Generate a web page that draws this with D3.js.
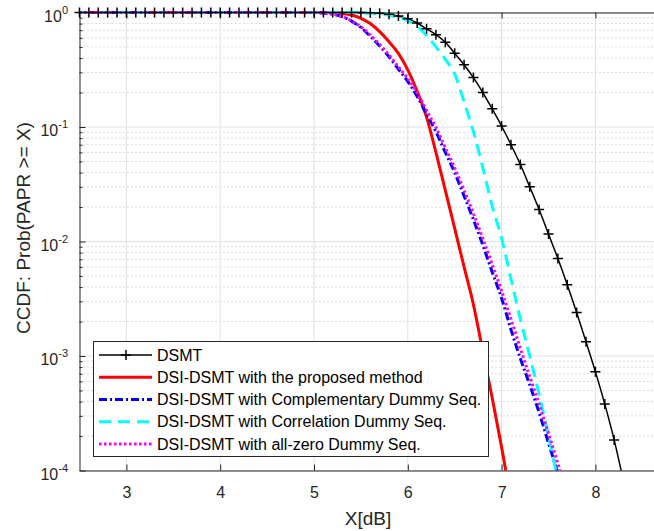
<!DOCTYPE html>
<html>
<head>
<meta charset="utf-8">
<script src="https://cdn.jsdelivr.net/npm/d3@7"></script>
<style>
  body { margin: 0; background: #ffffff; }
  text { font-family: "Liberation Sans", Arial, Helvetica, sans-serif; }
</style>
</head>
<body>
<svg id="svg" width="654" height="531"></svg>
<script>
// PAPR threshold X [dB], one sample every 0.1 dB
const papr = [
  2.5, 2.6, 2.7, 2.8, 2.9, 3.0, 3.1, 3.2, 3.3, 3.4,
  3.5, 3.6, 3.7, 3.8, 3.9, 4.0, 4.1, 4.2, 4.3, 4.4,
  4.5, 4.6, 4.7, 4.8, 4.9, 5.0, 5.1, 5.2, 5.3, 5.4,
  5.5, 5.6, 5.7, 5.8, 5.9, 6.0, 6.1, 6.2, 6.3, 6.4,
  6.5, 6.6, 6.7, 6.8, 6.9, 7.0, 7.1, 7.2, 7.3, 7.4,
  7.5, 7.6, 7.7, 7.8, 7.9, 8.0, 8.1, 8.2, 8.3
]

// CCDF values (null = curve already below 1e-4)
const dsmt = [
  1, 1, 1, 1, 1, 1, 1, 1, 1, 1,
  1, 1, 1, 1, 1, 1, 1, 1, 1, 1,
  1, 1, 1, 1, 1, 1, 1, 1, 1, 1,
  1, 0.995, 0.985, 0.965, 0.93, 0.88, 0.81, 0.72, 0.64, 0.55,
  0.44, 0.35, 0.27, 0.20, 0.144, 0.102, 0.070, 0.047, 0.030, 0.019,
  0.0116, 0.0071, 0.0042, 0.0024, 0.00133, 0.00073, 0.00038, 0.000185, 0.00008
]
const proposed = [
  1, 1, 1, 1, 1, 1, 1, 1, 1, 1,
  1, 1, 1, 1, 1, 1, 1, 1, 1, 1,
  1, 1, 1, 1, 1, 1, 1, 0.995, 0.98, 0.95,
  0.89, 0.80, 0.68, 0.555, 0.44, 0.315, 0.205, 0.122, 0.060, 0.028,
  0.013, 0.006, 0.0028, 0.0011, 0.00043, 0.00016, 0.000055, null, null, null,
  null, null, null, null, null, null, null, null, null
]
const complementary = [
  1, 1, 1, 1, 1, 1, 1, 1, 1, 1,
  1, 1, 1, 1, 1, 1, 1, 1, 1, 1,
  1, 1, 1, 1, 1, 1, 0.99, 0.965, 0.92, 0.84,
  0.74, 0.62, 0.51, 0.41, 0.32, 0.25, 0.185, 0.13, 0.091, 0.060,
  0.040, 0.025, 0.0155, 0.0093, 0.0054, 0.0032, 0.0017, 0.00095, 0.00056, 0.00032,
  0.000174, 0.000095, null, null, null, null, null, null, null
]
const correlation = [
  1, 1, 1, 1, 1, 1, 1, 1, 1, 1,
  1, 1, 1, 1, 1, 1, 1, 1, 1, 1,
  1, 1, 1, 1, 1, 1, 1, 1, 1, 1,
  0.995, 0.985, 0.975, 0.95, 0.91, 0.85, 0.76, 0.63, 0.50, 0.39,
  0.29, 0.166, 0.091, 0.044, 0.0204, 0.0107, 0.0047, 0.0021, 0.0010, 0.00046,
  0.00020, 0.000083, null, null, null, null, null, null, null
]
const allZero = [
  1, 1, 1, 1, 1, 1, 1, 1, 1, 1,
  1, 1, 1, 1, 1, 1, 1, 1, 1, 1,
  1, 1, 1, 1, 1, 1, 0.99, 0.97, 0.925, 0.845,
  0.75, 0.635, 0.525, 0.425, 0.335, 0.265, 0.198, 0.14, 0.099, 0.066,
  0.044, 0.028, 0.0175, 0.0106, 0.0063, 0.0037, 0.0021, 0.00117, 0.00066, 0.00038,
  0.00021, 0.000115, 0.000062, null, null, null, null, null, null
]

const legendLabels = [
  'DSMT',
  'DSI-DSMT with the proposed method',
  'DSI-DSMT with Complementary Dummy Seq.',
  'DSI-DSMT with Correlation Dummy Seq.',
  'DSI-DSMT with all-zero Dummy Seq.'
]
const xTicks = [3, 4, 5, 6, 7, 8]
const yTicks = [1e-4, 1e-3, 1e-2, 1e-1, 1]
const yTickExp = ['-4', '-3', '-2', '-1', '0']

const series = [
  { name: legendLabels[0], values: dsmt, color: '#000000', width: 1.5, dash: null, marker: true },
  { name: legendLabels[1], values: proposed, color: '#ff0000', width: 3, dash: null },
  { name: legendLabels[2], values: complementary, color: '#0000ff', width: 3, dash: '8,3,2,3' },
  { name: legendLabels[3], values: correlation, color: '#00ffff', width: 3, dash: '12,7' },
  { name: legendLabels[4], values: allZero, color: '#ff00ff', width: 3, dash: '2.5,2.5' }
]

const svg = d3.select('#svg')

const plot = { left: 79.5, top: 12.5, bottom: 470.5, right: 654 }
const axisColor = '#262626'

const xScale = d3.scaleLinear()
  .domain([2.5, 9])
  .range([plot.left, plot.left + 6.5 * 93.8])

const yScale = d3.scaleLog()
  .domain([1e-4, 1])
  .range([plot.bottom, plot.top])

// minor decade positions 2..9 x 10^k
const yMinor = []
for (let k = -4; k < 0; k++) {
  for (let m = 2; m <= 9; m++) yMinor.push(m * Math.pow(10, k))
}

// grid
const grid = svg.append('g')
grid.selectAll('.minor')
  .data(yMinor)
  .enter()
  .append('line')
  .attr('x1', plot.left).attr('x2', plot.right)
  .attr('y1', d => yScale(d)).attr('y2', d => yScale(d))
  .attr('stroke', '#b8b8b8')
  .attr('stroke-width', 1)
  .attr('stroke-dasharray', '1,3')
grid.selectAll('.hmajor')
  .data(yTicks)
  .enter()
  .append('line')
  .attr('x1', plot.left).attr('x2', plot.right)
  .attr('y1', d => yScale(d)).attr('y2', d => yScale(d))
  .attr('stroke', '#e1e1e1')
grid.selectAll('.vmajor')
  .data(xTicks)
  .enter()
  .append('line')
  .attr('x1', d => xScale(d)).attr('x2', d => xScale(d))
  .attr('y1', plot.top).attr('y2', plot.bottom)
  .attr('stroke', '#e1e1e1')

// axes
const xAxis = svg.append('g')
  .attr('transform', 'translate(0,' + plot.bottom + ')')
  .call(d3.axisBottom(xScale).tickValues(xTicks).tickFormat(d3.format('d'))
    .tickSizeInner(-6).tickSizeOuter(0).tickPadding(16))
const topAxis = svg.append('g')
  .attr('transform', 'translate(0,' + plot.top + ')')
  .call(d3.axisTop(xScale).tickValues(xTicks).tickSizeInner(-6).tickSizeOuter(0).tickFormat(''))
const yAxis = svg.append('g')
  .attr('transform', 'translate(' + plot.left + ',0)')
  .call(d3.axisLeft(yScale).tickValues(yTicks).tickSizeInner(-6).tickSizeOuter(0).tickFormat(''))
const yMinorAxis = svg.append('g')
  .attr('transform', 'translate(' + plot.left + ',0)')
  .call(d3.axisLeft(yScale).tickValues(yMinor).tickSizeInner(-3).tickSizeOuter(0).tickFormat(''))
yMinorAxis.select('.domain').remove()

svg.selectAll('.domain, .tick line').attr('stroke', axisColor)
xAxis.selectAll('text')
  .attr('fill', axisColor)
  .style('font-size', '16px')
  .style('font-family', '"Liberation Sans", Arial, sans-serif')

// y tick labels 10^k
const yLab = svg.append('g')
  .selectAll('text')
  .data(yTicks)
  .enter()
  .append('text')
  .attr('x', 68)
  .attr('y', d => yScale(d) + 9)
  .attr('text-anchor', 'end')
  .attr('fill', axisColor)
  .style('font-size', '16px')
yLab.append('tspan').text('10')
yLab.append('tspan')
  .attr('dy', -8)
  .style('font-size', '11px')
  .text((d, i) => yTickExp[i])

// axis titles
svg.append('text')
  .attr('x', 368)
  .attr('y', 525)
  .attr('text-anchor', 'middle')
  .attr('fill', axisColor)
  .style('font-size', '19px')
  .text('X[dB]')
svg.append('text')
  .attr('transform', 'translate(30,228) rotate(-90)')
  .attr('text-anchor', 'middle')
  .attr('fill', axisColor)
  .style('font-size', '19px')
  .text('CCDF: Prob(PAPR >= X)')

// curves
svg.append('clipPath')
  .attr('id', 'clip')
  .append('rect')
  .attr('x', plot.left).attr('y', 0)
  .attr('width', plot.right - plot.left).attr('height', plot.bottom)

const lineFn = d3.line()
  .defined(d => d[1] != null)
  .x(d => xScale(d[0]))
  .y(d => yScale(d[1]))
  .curve(d3.curveMonotoneX)

const curveGrp = svg.append('g').attr('clip-path', 'url(#clip)')
series.forEach(s => {
  const pts = papr.map((x, i) => [x, s.values[i]])
  curveGrp.append('path')
    .datum(pts)
    .attr('d', lineFn)
    .attr('fill', 'none')
    .attr('stroke', s.color)
    .attr('stroke-width', s.width)
    .attr('stroke-dasharray', s.dash)
})

// "+" markers on DSMT
const markPts = papr.map((x, i) => [x, dsmt[i]]).filter(d => d[1] != null && d[1] >= 1e-4)
svg.append('g')
  .selectAll('path')
  .data(markPts)
  .enter()
  .append('path')
  .attr('d', d => {
    const cx = xScale(d[0]), cy = yScale(d[1])
    return 'M' + (cx - 5) + ',' + cy + 'H' + (cx + 5) + 'M' + cx + ',' + (cy - 5) + 'V' + (cy + 5)
  })
  .attr('stroke', '#000')
  .attr('stroke-width', 1.5)

// legend
const legend = svg.append('g')
legend.append('rect')
  .attr('x', 93.5).attr('y', 341.5)
  .attr('width', 395).attr('height', 115)
  .attr('fill', '#ffffff')
  .attr('stroke', axisColor)
  .attr('stroke-width', 1)

const rowY = d3.scalePoint().domain(legendLabels).range([355, 444])
series.forEach(s => {
  const yy = rowY(s.name)
  legend.append('line')
    .attr('x1', 99).attr('x2', 152)
    .attr('y1', yy).attr('y2', yy)
    .attr('stroke', s.color)
    .attr('stroke-width', s.width)
    .attr('stroke-dasharray', s.dash)
  if (s.marker) {
    legend.append('path')
      .attr('d', 'M121,' + yy + 'H131M126,' + (yy - 5) + 'V' + (yy + 5))
      .attr('stroke', '#000')
      .attr('stroke-width', 1.5)
  }
  legend.append('text')
    .attr('x', 157)
    .attr('y', yy + 5.5)
    .attr('fill', '#000')
    .style('font-size', '16px')
    .text(s.name)
})
</script>
</body>
</html>
